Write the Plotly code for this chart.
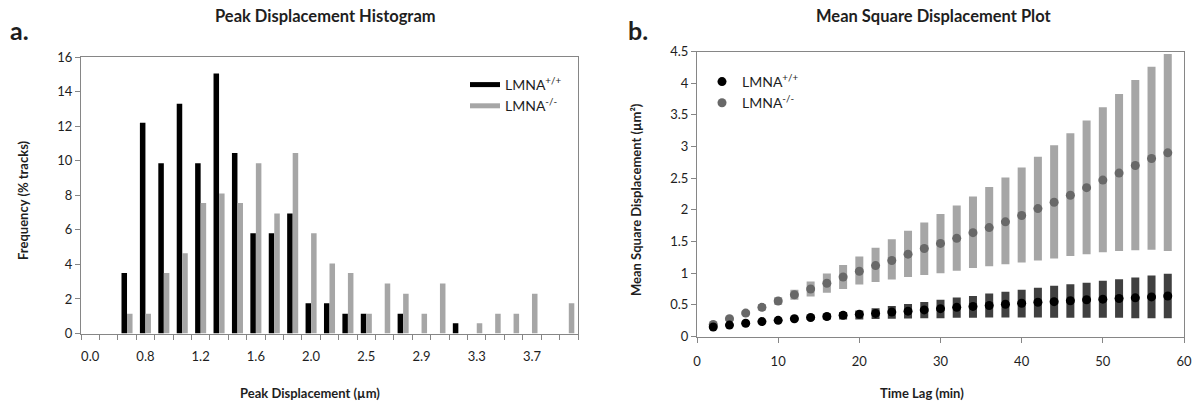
import plotly.graph_objects as go

# ---------------- Data: histogram (panel a) ----------------
bin_index = list(range(27))
bin_tick_pos = [0, 3, 6, 9, 12, 15, 18, 21, 24]
bin_tick_labels = ["0.0", "0.8", "1.2", "1.6", "2.0", "2.5", "2.9", "3.3", "3.7"]
hist_wt = [0, 0, 3.5, 12.2, 9.85, 13.3, 9.85, 15.05, 10.45, 5.8, 5.8, 6.95, 1.75, 1.75,
           1.15, 1.15, 0, 1.15, 0, 0, 0.6, 0, 0, 0, 0, 0, 0]
hist_ko = [0, 0, 1.15, 1.15, 3.5, 4.65, 7.55, 8.1, 7.55, 9.85, 6.95, 10.45, 5.8, 4.05,
           3.5, 1.15, 2.9, 2.3, 1.15, 2.9, 0, 0.6, 1.15, 1.15, 2.3, 0, 1.75]

# ---------------- Data: MSD (panel b) ----------------
time_lag = [2, 4, 6, 8, 10, 12, 14, 16, 18, 20, 22, 24, 26, 28, 30, 32, 34, 36, 38, 40,
            42, 44, 46, 48, 50, 52, 54, 56, 58]
wt_mean = [0.15, 0.18, 0.21, 0.235, 0.255, 0.28, 0.30, 0.315, 0.335, 0.35, 0.365, 0.385,
           0.40, 0.42, 0.44, 0.46, 0.475, 0.49, 0.51, 0.525, 0.54, 0.55, 0.565, 0.58, 0.59,
           0.60, 0.61, 0.625, 0.64]
wt_upper = [0.16, 0.19, 0.225, 0.25, 0.275, 0.30, 0.33, 0.36, 0.385, 0.41, 0.445, 0.48,
            0.515, 0.545, 0.58, 0.615, 0.64, 0.68, 0.705, 0.74, 0.77, 0.80, 0.825, 0.85,
            0.88, 0.905, 0.93, 0.965, 0.99]
wt_lower = [0.14, 0.17, 0.195, 0.22, 0.235, 0.255, 0.265, 0.27, 0.27, 0.27, 0.275, 0.28,
            0.285, 0.29, 0.29, 0.295, 0.295, 0.30, 0.30, 0.30, 0.30, 0.295, 0.295, 0.295,
            0.295, 0.295, 0.29, 0.29, 0.29]
ko_mean = [0.19, 0.28, 0.37, 0.46, 0.56, 0.66, 0.75, 0.84, 0.94, 1.03, 1.12, 1.20, 1.30,
           1.39, 1.47, 1.55, 1.64, 1.72, 1.81, 1.91, 2.02, 2.12, 2.23, 2.35, 2.47, 2.58,
           2.70, 2.81, 2.90]
ko_upper = [0.21, 0.31, 0.41, 0.51, 0.62, 0.74, 0.87, 0.995, 1.13, 1.265, 1.40, 1.535,
            1.67, 1.80, 1.935, 2.07, 2.21, 2.36, 2.51, 2.67, 2.84, 3.02, 3.21, 3.41, 3.62,
            3.83, 4.05, 4.26, 4.46]
ko_lower = [0.17, 0.25, 0.33, 0.41, 0.50, 0.58, 0.63, 0.69, 0.75, 0.82, 0.86, 0.90, 0.94,
            0.97, 1.00, 1.04, 1.08, 1.11, 1.14, 1.17, 1.20, 1.23, 1.27, 1.30, 1.33, 1.35,
            1.36, 1.37, 1.35]

WT_NAME = "LMNA<sup>+/+</sup>"
KO_NAME = "LMNA<sup>-/-</sup>"

FONT = "Lato, 'Open Sans', sans-serif"
TXT = "#1e1e1e"
AXIS_GRAY = "#868686"

fig = go.Figure()

# Histogram bars
fig.add_trace(go.Bar(x=bin_index, y=hist_wt, marker=dict(color="#000000", line=dict(width=0)),
                     name=WT_NAME, showlegend=False, xaxis="x", yaxis="y"))
fig.add_trace(go.Bar(x=bin_index, y=hist_ko, marker=dict(color="#A6A6A6", line=dict(width=0)),
                     name=KO_NAME, showlegend=False, xaxis="x", yaxis="y"))
# Legend swatches (line style, as in the original legend)
fig.add_trace(go.Scatter(x=[None], y=[None], mode="lines", line=dict(color="#000000", width=5),
                         name=WT_NAME, legend="legend", xaxis="x", yaxis="y"))
fig.add_trace(go.Scatter(x=[None], y=[None], mode="lines", line=dict(color="#A6A6A6", width=5),
                         name=KO_NAME, legend="legend", xaxis="x", yaxis="y"))

# MSD scatter with error bars
ko_plus = [u - m for u, m in zip(ko_upper, ko_mean)]
ko_minus = [m - l for m, l in zip(ko_mean, ko_lower)]
wt_plus = [u - m for u, m in zip(wt_upper, wt_mean)]
wt_minus = [m - l for m, l in zip(wt_mean, wt_lower)]

fig.add_trace(go.Scatter(
    x=time_lag, y=ko_mean, mode="markers", name=KO_NAME, legend="legend2", legendrank=2,
    marker=dict(color="#686868", size=9, line=dict(width=0)),
    error_y=dict(type="data", symmetric=False, array=ko_plus, arrayminus=ko_minus,
                 color="#A6A6A6", thickness=8, width=0),
    xaxis="x2", yaxis="y2"))
fig.add_trace(go.Scatter(
    x=time_lag, y=wt_mean, mode="markers", name=WT_NAME, legend="legend2", legendrank=1,
    marker=dict(color="#000000", size=9, line=dict(width=0)),
    error_y=dict(type="data", symmetric=False, array=wt_plus, arrayminus=wt_minus,
                 color="#404040", thickness=8, width=0),
    xaxis="x2", yaxis="y2"))

W, H = 1195, 403

def px(x):
    return x / W

def py(y):
    return (H - y) / H

axis_common = dict(showline=True, linecolor=AXIS_GRAY, linewidth=1, mirror=True,
                   showgrid=False, zeroline=False, automargin=False,
                   tickfont=dict(family=FONT, size=13, color=TXT))

def label(text, x, y, size, angle=0, xanchor="center"):
    return dict(text=text, x=px(x), y=py(y), xref="paper", yref="paper", showarrow=False,
                xanchor=xanchor, yanchor="middle", textangle=angle,
                font=dict(family=FONT, size=size, color=TXT))

fig.update_layout(
    template="none",
    width=W, height=H,
    margin=dict(l=0, r=0, t=0, b=0, autoexpand=False),
    paper_bgcolor="white", plot_bgcolor="white",
    font=dict(family=FONT, color=TXT),
    barmode="group", bargap=0.4, bargroupgap=0,
    xaxis=dict(domain=[px(81), px(578)], range=[-0.5, 26.5], anchor="y",
               tickmode="array", tickvals=bin_tick_pos, ticktext=bin_tick_labels,
               ticks="", ticklabelstandoff=11,
               minor=dict(ticks="outside", tick0=-0.5, dtick=1, ticklen=5,
                          tickcolor=AXIS_GRAY, showgrid=False),
               **axis_common),
    yaxis=dict(domain=[py(333.5), py(57)], range=[0, 16], anchor="x",
               tickmode="linear", tick0=0, dtick=2, ticks="outside", ticklen=5,
               tickcolor=AXIS_GRAY, **axis_common),
    xaxis2=dict(domain=[px(697), px(1184)], range=[0, 60], anchor="y2",
                tickmode="linear", tick0=0, dtick=10, ticks="outside", ticklen=5,
                tickcolor=AXIS_GRAY, ticklabelstandoff=8, **axis_common),
    yaxis2=dict(domain=[py(336.5), py(51.5)], range=[0, 4.5], anchor="x2",
                tickmode="linear", tick0=0, dtick=0.5, ticks="outside", ticklen=5,
                tickcolor=AXIS_GRAY, **axis_common),
    legend=dict(x=px(465), y=py(69), xanchor="left", yanchor="top",
                bgcolor="rgba(0,0,0,0)", itemwidth=30, borderwidth=0,
                font=dict(family=FONT, size=14, color=TXT)),
    legend2=dict(x=px(702), y=py(66), xanchor="left", yanchor="top",
                 bgcolor="rgba(0,0,0,0)", itemwidth=30, borderwidth=0,
                 font=dict(family=FONT, size=14, color=TXT)),
    annotations=[
        label("<b>Peak Displacement Histogram</b>", 325, 16, 16.5),
        label("<b>Mean Square Displacement Plot</b>", 934, 16, 16.5),
        label("<b>a.</b>", 8, 30, 25, xanchor="left"),
        label("<b>b.</b>", 626, 30, 25, xanchor="left"),
        label("<b>Peak Displacement (µm)</b>", 310, 393, 13),
        label("<b>Time Lag (min)</b>", 922, 393, 13),
        label("<b>Frequency (% tracks)</b>", 23, 200, 13, angle=-90),
        label("<b>Mean Square Displacement (µm²)</b>", 636, 200, 13, angle=-90),
    ],
)

fig.write_html("out.html",
               config={"displayModeBar": False},
               post_script="document.body.style.margin='0px';"
                           "document.body.style.overflow='hidden';")
